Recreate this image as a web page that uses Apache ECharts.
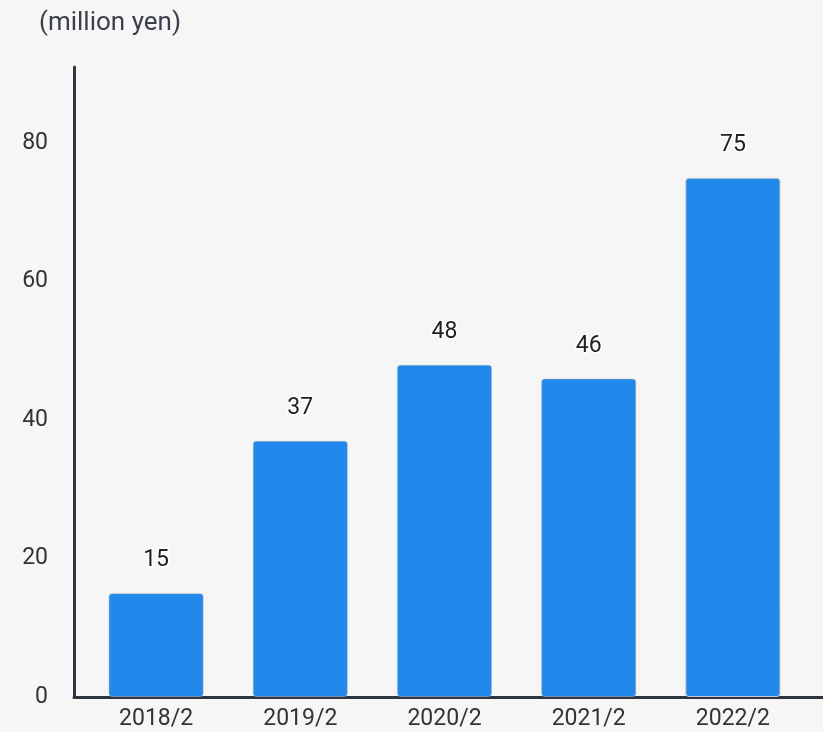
<!DOCTYPE html>
<html>
<head>
<meta charset="utf-8">
<script src="https://cdn.jsdelivr.net/npm/echarts@6/dist/echarts.min.js"></script>
<style>
  html, body { margin: 0; padding: 0; background: #f6f6f6; }
  #chart { width: 823px; height: 732px; }
</style>
</head>
<body>
<div id="chart"></div>
<script>
// Fiscal periods and yearly amounts (million yen)
const categories = ['2018/2', '2019/2', '2020/2', '2021/2', '2022/2'];
const values = [15, 37, 48, 46, 75];
const unitLabel = '(million yen)';

const axisColor = '#2f3441';
const textColor = '#333333';
const barColor = '#2189eb';
const fontFamily = 'Roboto, "Noto Sans", sans-serif';

const chart = echarts.init(document.getElementById('chart'), null, { renderer: 'canvas' });

chart.setOption({
  backgroundColor: '#f6f6f6',
  animation: false,
  title: {
    text: unitLabel,
    left: 34,
    top: 5,
    textStyle: { fontFamily, fontSize: 26, fontWeight: 'normal', color: '#3a3f4b' }
  },
  grid: [
    { left: 84, right: 18, top: 67, bottom: 35 },
    { left: 74, right: 0, top: 67, bottom: 35 }
  ],
  xAxis: [
    {
      type: 'category',
      gridIndex: 0,
      data: categories,
      axisLine: { show: false },
      axisTick: { show: false },
      axisLabel: { fontFamily, fontSize: 23, color: textColor, margin: 11 }
    },
    {
      // full-width baseline under the bars
      type: 'value',
      gridIndex: 1,
      min: 0,
      max: 1,
      axisLine: { show: true, lineStyle: { color: axisColor, width: 3 } },
      axisTick: { show: false },
      axisLabel: { show: false },
      splitLine: { show: false }
    }
  ],
  yAxis: [
    {
      type: 'value',
      gridIndex: 0,
      min: 0,
      max: 91,
      interval: 20,
      offset: 10,
      axisLine: { show: true, lineStyle: { color: axisColor, width: 3 } },
      axisTick: { show: false },
      splitLine: { show: false },
      axisLabel: {
        fontFamily, fontSize: 23, color: textColor, margin: 26,
        padding: [5, 0, 0, 0],
        showMaxLabel: false
      }
    },
    {
      type: 'value',
      gridIndex: 1,
      show: false,
      min: 0,
      max: 1
    }
  ],
  series: [
    {
      type: 'bar',
      xAxisIndex: 0,
      yAxisIndex: 0,
      data: values.map((v, i) => ({
        value: v,
        itemStyle: i === values.length - 1
          ? { borderColor: '#c9c9c9', borderWidth: 1 }
          : {}
      })),
      barWidth: '66%',
      itemStyle: {
        color: barColor,
        borderRadius: 3,
        borderColor: 'rgba(190,190,190,0.5)',
        borderWidth: 1
      },
      label: {
        show: true,
        position: 'top',
        distance: 21,
        fontFamily,
        fontSize: 23,
        color: '#222222',
        textBorderColor: '#ffffff',
        textBorderWidth: 3
      }
    }
  ]
});
</script>
</body>
</html>
